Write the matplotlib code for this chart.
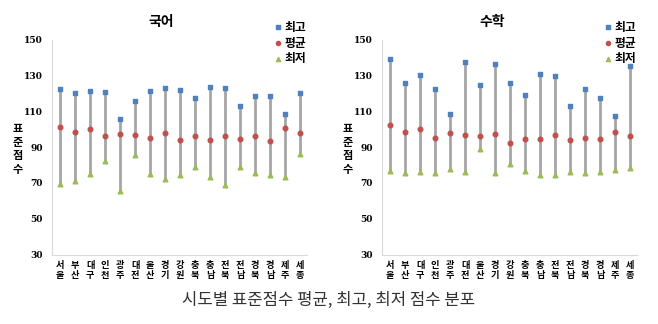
import matplotlib
matplotlib.use("Agg")
import matplotlib.pyplot as plt

plt.rcParams['font.family'] = ['Noto Sans CJK KR', 'DejaVu Sans']

regions = ['서울', '부산', '대구', '인천', '광주', '대전', '울산', '경기', '강원',
           '충북', '충남', '전북', '전남', '경북', '경남', '제주', '세종']

# 국어
kor_max = [122.4, 120.2, 121.1, 120.7, 105.7, 115.9, 121.3, 122.9, 121.6,
           117.6, 123.7, 122.9, 113.1, 118.3, 118.7, 108.5, 120.4]
kor_avg = [101.4, 98.3, 100.3, 95.9, 97.4, 96.8, 95.3, 97.6, 93.9,
           95.9, 94.1, 96.1, 94.2, 95.9, 93.1, 100.5, 97.9]
kor_min = [69.1, 71.3, 75.2, 82.0, 65.7, 85.7, 74.8, 72.2, 74.4,
           78.9, 73.1, 68.7, 78.7, 75.6, 74.2, 73.5, 85.9]

# 수학
math_max = [139.0, 125.8, 130.3, 122.1, 108.4, 137.7, 124.7, 136.2, 125.7,
            119.2, 130.7, 129.9, 112.7, 122.1, 117.1, 107.3, 135.1]
math_avg = [102.1, 98.6, 99.9, 95.3, 97.7, 96.9, 96.2, 97.3, 92.5,
            94.6, 94.6, 96.6, 94.0, 94.9, 94.6, 98.6, 96.2]
math_min = [76.8, 75.4, 75.8, 75.4, 77.9, 76.2, 89.0, 75.4, 80.3,
            76.6, 74.6, 74.1, 76.2, 75.4, 76.2, 77.1, 78.4]

yticks = [30, 50, 70, 90, 110, 130, 150]

W, H = 658, 324
fig = plt.figure(figsize=(W / 100, H / 100), dpi=100)


def draw(left_px, title, vmax, vavg, vmin):
    ax = fig.add_axes([left_px / W, 1 - 254.5 / H, 255 / W, 215 / H])
    x = list(range(len(regions)))
    ax.vlines(x, vmin, vmax, color='#a6a6a6', lw=2, zorder=1)
    ax.scatter(x, vmax, marker='s', s=11, color='#4f81bd', zorder=3, label='최고')
    ax.scatter(x, vavg, marker='o', s=11, color='#c0504d', zorder=3, label='평균')
    ax.scatter(x, vmin, marker='^', s=11, color='#9bbb59', zorder=3, label='최저')
    ax.set_xlim(-0.55, 16.47)
    ax.set_ylim(30, 150)
    ax.set_yticks(yticks)
    ax.set_yticklabels([str(t) for t in yticks], fontsize=6.5, fontweight='bold',
                       family='DejaVu Serif')
    ax.set_xticks(x)
    ax.set_xticklabels(['\n'.join(r) for r in regions], fontsize=6.6,
                       fontweight='bold', linespacing=1.05)
    ax.tick_params(axis='x', length=0, pad=5)
    ax.tick_params(axis='y', length=0, pad=6.5)
    for s in ['top', 'right']:
        ax.spines[s].set_visible(False)
    for s in ['left', 'bottom']:
        ax.spines[s].set_color('#d9d9d9')
    ax.set_ylabel('\n'.join('표준점수'), rotation=0, fontsize=8,
                  fontweight='bold', linespacing=1.05, va='center', ha='center')
    ax.yaxis.set_label_coords(-34 / 255, 0.49)
    ax.text(0.43, 1.08, title, transform=ax.transAxes, ha='center', va='center',
            fontsize=10, fontweight='bold')
    leg = ax.legend(loc='upper left', bbox_to_anchor=(0.85, 1.11), frameon=False,
                    fontsize=8.5, handletextpad=0.1, handlelength=0.8,
                    labelspacing=0.25, markerscale=0.9, borderaxespad=0)
    for t in leg.get_texts():
        t.set_fontweight('bold')
    return ax


draw(52, '국어', kor_max, kor_avg, kor_min)
draw(382, '수학', math_max, math_avg, math_min)

fig.text(0.5, 1 - 300 / H, '시도별 표준점수 평균, 최고, 최저 점수 분포', ha='center',
         va='center', fontsize=12, color='#333333')

fig.savefig('out.png', dpi=100, facecolor='white')
